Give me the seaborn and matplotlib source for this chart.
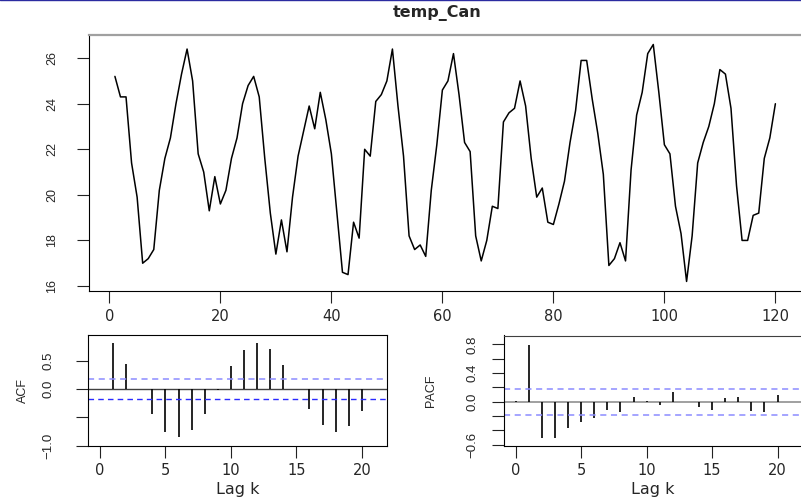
import numpy as np
import pandas as pd
import seaborn as sns
import matplotlib.pyplot as plt
from matplotlib.lines import Line2D

# monthly temperature series
temp_can = [
    25.2, 24.3, 24.3, 21.4, 19.9, 17.0, 17.2, 17.6, 20.2, 21.6,
    22.5, 24.0, 25.3, 26.4, 25.0, 21.8, 21.0, 19.3, 20.8, 19.6,
    20.2, 21.6, 22.5, 24.0, 24.8, 25.2, 24.3, 21.6, 19.2, 17.4,
    18.9, 17.5, 19.9, 21.7, 22.8, 23.9, 22.9, 24.5, 23.3, 21.8,
    19.2, 16.6, 16.5, 18.8, 18.1, 22.0, 21.7, 24.1, 24.4, 25.0,
    26.4, 23.9, 21.7, 18.2, 17.6, 17.8, 17.3, 20.2, 22.2, 24.6,
    25.0, 26.2, 24.4, 22.3, 21.9, 18.2, 17.1, 18.0, 19.5, 19.4,
    23.2, 23.6, 23.8, 25.0, 23.9, 21.6, 19.9, 20.3, 18.8, 18.7,
    19.6, 20.6, 22.3, 23.7, 25.9, 25.9, 24.2, 22.7, 20.9, 16.9,
    17.2, 17.9, 17.1, 21.1, 23.5, 24.5, 26.2, 26.6, 24.5, 22.2,
    21.8, 19.5, 18.3, 16.2, 18.2, 21.4, 22.3, 23.0, 24.0, 25.5,
    25.3, 23.8, 20.4, 18.0, 18.0, 19.1, 19.2, 21.6, 22.5, 24.0,
]
months = np.arange(1, len(temp_can) + 1)

lags = np.arange(0, 21)
acf_vals = [0.0, 0.81, 0.45, 0.01, -0.44, -0.75, -0.85, -0.73, -0.44, -0.01,
            0.40, 0.69, 0.81, 0.71, 0.42, 0.01, -0.36, -0.64, -0.75, -0.66, -0.39]
pacf_vals = [0.01, 0.79, -0.50, -0.51, -0.36, -0.28, -0.22, -0.11, -0.14, 0.07,
             0.01, -0.04, 0.13, -0.01, -0.08, -0.11, 0.05, 0.07, -0.13, -0.15, 0.10]
conf = 0.179

df = pd.DataFrame({"month": months, "temp": temp_can})

sns.set_style("ticks")
plt.rcParams['font.family'] = ['DejaVu Sans']

W, H = 801, 498
fig = plt.figure(figsize=(W / 100, H / 100), dpi=100)
fig.patch.set_facecolor("white")


def px_axes(left, top, right, bottom):
    return fig.add_axes([left / W, 1 - bottom / H, (right - left) / W, (bottom - top) / H])


def style_axes(ax, ypad, ysize):
    for s in ax.spines.values():
        s.set_linewidth(0.8)
        s.set_color("black")
    ax.tick_params(axis="both", length=8.6, width=0.8, color="#222222")
    ax.tick_params(axis="x", labelsize=10.5, pad=4.0)
    ax.tick_params(axis="y", labelsize=ysize, labelrotation=90, pad=ypad)
    for lbl in ax.get_yticklabels():
        lbl.set_fontfamily("Liberation Sans")
        lbl.set_va("center")


# main series
ax = px_axes(88.5, 34.7, 801.8, 291)
sns.lineplot(data=df, x="month", y="temp", color="black", lw=1.1, ax=ax)
ax.set_xlim(-3.76, 124.76)
ax.set_ylim(15.78, 27.03)
ax.set_xticks(range(0, 121, 20))
ax.set_yticks(range(16, 27, 2))
ax.set_xlabel("")
ax.set_ylabel("")
style_axes(ax, 13.3, 9)
ax.tick_params(axis="x", pad=4.6)
ax.spines["top"].set_color("#a0a0a0")
ax.spines["top"].set_linewidth(1.6)
ax.set_title("temp_Can", x=(437.5 - 88.5) / 713.3, y=1 + 17.7 / 256.3, va="baseline",
             fontsize=11.5, fontweight="bold", pad=0)

# ACF
ax2 = px_axes(88.3, 335, 386.7, 445.7)
ax2.axhline(0, color="#404040", lw=1.0)
ax2.vlines(lags, 0, acf_vals, color="black", lw=1.2)
ax2.axhline(conf, color="#8c8cff", lw=1.1, ls=(0, (4, 3)))
ax2.axhline(-conf, color="#2a2aff", lw=1.0, ls=(0, (4, 3)))
ax2.set_xlim(-0.89, 21.9)
ax2.set_ylim(-1.0, 0.955)
ax2.set_xticks(range(0, 21, 5))
ax2.set_yticks([-1.0, -0.5, 0.0, 0.5], ["\u22121.0", "", "0.0", "0.5"])
style_axes(ax2, 16.0, 9.5)
ax2.tick_params(axis="x", pad=3.6)
ax2.set_xlabel("Lag k", fontsize=11.5, va="baseline")
ax2.xaxis.set_label_coords(0.5, -48.3 / 110.7)
ax2.set_ylabel("ACF", fontsize=9, family="Liberation Sans", va="center")
ax2.yaxis.set_label_coords((22.5 - 88.3) / 298.4, 0.5)

# PACF
ax3 = px_axes(504.3, 335.5, 802, 445.7)
ax3.axhline(0, color="#909090", lw=1.2)
ax3.vlines(lags, 0, pacf_vals, color="black", lw=1.2)
ax3.axhline(conf, color="#8c8cff", lw=1.1, ls=(0, (4, 3)))
ax3.axhline(-conf, color="#8c8cff", lw=1.1, ls=(0, (4, 3)))
ax3.set_xlim(-0.87, 21.87)
ax3.set_ylim(-0.613, 0.923)
ax3.set_xticks(range(0, 21, 5))
ax3.set_yticks([-0.6, -0.4, -0.2, 0.0, 0.2, 0.4, 0.6, 0.8],
               ["\u22120.6", "", "", "0.0", "", "0.4", "", "0.8"])
style_axes(ax3, 10.0, 9.5)
ax3.spines["top"].set_color("#404040")
ax3.tick_params(axis="x", pad=3.6)
ax3.set_xlabel("Lag k", fontsize=11.5, va="baseline")
ax3.xaxis.set_label_coords(0.5, -48.3 / 110.2)
ax3.set_ylabel("PACF", fontsize=9, family="Liberation Sans", va="center")
ax3.yaxis.set_label_coords((430.8 - 504.3) / 297.7, 0.5)

# thin header rule at the very top of the image
fig.add_artist(Line2D([0, 1], [0.999, 0.999], color="#2b2ba0", lw=1.0, transform=fig.transFigure))

fig.savefig("out.png", dpi=100)
